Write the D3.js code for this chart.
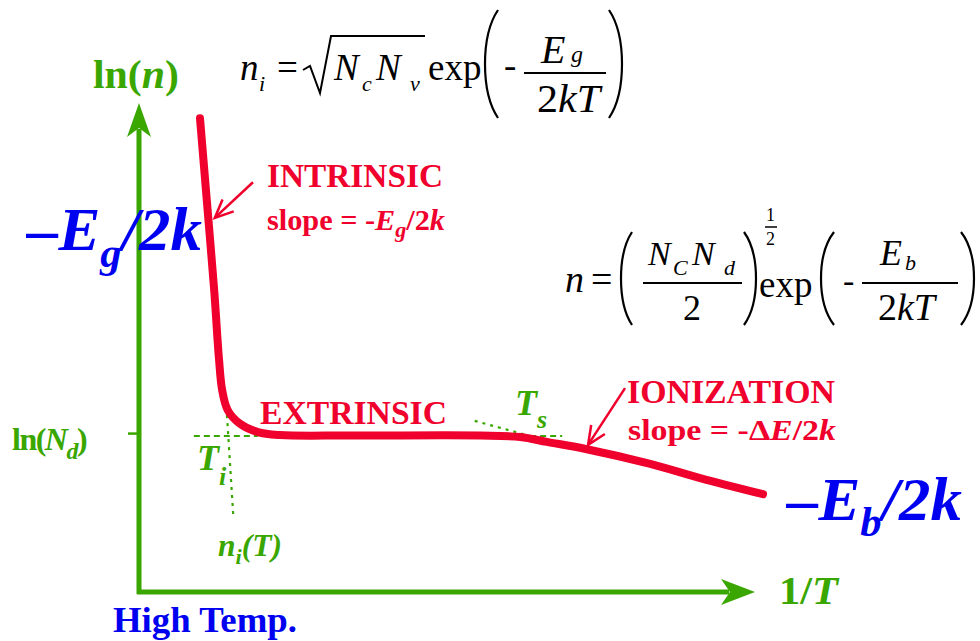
<!DOCTYPE html>
<html>
<head>
<meta charset="utf-8">
<script src="https://cdn.jsdelivr.net/npm/d3@7"></script>
<style>
body{margin:0;background:#fff}
svg text{font-family:"Liberation Serif","Times New Roman",Times,serif}
</style>
</head>
<body>
<svg id="c" width="980" height="641"></svg>
<script>
// ln(n) versus 1/T for a doped semiconductor (arbitrary units on both axes)
const invT = [0.99, 1.10, 1.22, 1.30, 1.35, 1.44, 1.64, 1.93, 2.29, 3.43, 5.54, 6.19, 6.62, 7.27, 8.30, 9.11, 10.13];
const lnN  = [9.69, 8.02, 6.18, 4.74, 4.13, 3.72, 3.44, 3.27, 3.21, 3.20, 3.20, 3.17, 3.07, 2.92, 2.62, 2.33, 2.00];
const lnNdLevel = 3.25;
const yTicks = [lnNdLevel];
// guide lines: [x1, y1, x2, y2] in data units
const guideTi = [[0.89, 3.19, 1.93, 3.19], [1.42, 3.78, 1.53, 1.57]];
const guideTs = [[5.45, 3.50, 6.35, 3.19], [6.35, 3.19, 6.87, 3.19]];
// annotation arrows: [x1, y1, x2, y2] in data units (head at the second point)
const pointers = [[1.85, 8.38, 1.23, 7.65], [7.89, 4.17, 7.29, 3.01]];

const RED = "#f0002c", GREEN = "#3aa600", BLUE = "#0000f0";

const svg = d3.select("#c");
const x = d3.scaleLinear().domain([0, 10]).range([139, 755]);
const y = d3.scaleLinear().domain([0, 10]).range([592, 103]);

// axes with arrowheads
const ax = svg.append("g");
ax.append("line").attr("x1", x(0) - 2).attr("y1", y(0)).attr("x2", x(10) - 26).attr("y2", y(0))
  .attr("stroke", GREEN).attr("stroke-width", 5);
ax.append("line").attr("x1", x(0)).attr("y1", y(0) + 2).attr("x2", x(0)).attr("y2", y(10) + 26)
  .attr("stroke", GREEN).attr("stroke-width", 5);
const tx = x(10), ty = y(0);
ax.append("path").attr("d", `M${tx},${ty} L${tx - 34},${ty - 13} L${tx - 25},${ty} L${tx - 34},${ty + 13} Z`).attr("fill", GREEN);
const vx = x(0), vy = y(10);
ax.append("path").attr("d", `M${vx},${vy} L${vx - 12},${vy + 34} L${vx},${vy + 25} L${vx + 12},${vy + 34} Z`).attr("fill", GREEN);

const yAxis = d3.axisLeft(y).tickValues(yTicks).tickSize(11).tickFormat("");
const gy = svg.append("g").attr("transform", `translate(${x(0)},0)`).call(yAxis);
gy.select(".domain").remove();
gy.selectAll(".tick line").attr("stroke", GREEN).attr("stroke-width", 2.5);

// guide lines
function guide(arr, dash) {
  arr.forEach(d => svg.append("line")
    .attr("x1", x(d[0])).attr("y1", y(d[1])).attr("x2", x(d[2])).attr("y2", y(d[3]))
    .attr("stroke", GREEN).attr("stroke-width", 2.2).attr("stroke-dasharray", dash));
}
guide([guideTi[0]], "6,4");
guide([guideTi[1]], "3,5");
guide([guideTs[0]], "3,5");
guide([guideTs[1]], "6,4");

// carrier concentration curve
const pts = invT.map((v, i) => [v, lnN[i]]);
svg.append("path").datum(pts)
  .attr("d", d3.line().x(d => x(d[0])).y(d => y(d[1])).curve(d3.curveCatmullRom.alpha(0.5)))
  .attr("fill", "none").attr("stroke", RED).attr("stroke-width", 8)
  .attr("stroke-linecap", "round").attr("stroke-linejoin", "round");

// pointer arrows
pointers.forEach(p => {
  const x1 = x(p[0]), y1 = y(p[1]), x2 = x(p[2]), y2 = y(p[3]);
  const a = Math.atan2(y2 - y1, x2 - x1), L = 20, w = 0.42;
  svg.append("line").attr("x1", x1).attr("y1", y1).attr("x2", x2).attr("y2", y2)
    .attr("stroke", RED).attr("stroke-width", 2.5);
  svg.append("path")
    .attr("d", `M${x2 - L * Math.cos(a - w)},${y2 - L * Math.sin(a - w)} L${x2},${y2} L${x2 - L * Math.cos(a + w)},${y2 - L * Math.sin(a + w)}`)
    .attr("fill", "none").attr("stroke", RED).attr("stroke-width", 2.5);
});

// rich text helper: segments may set italic, size, absolute x/y or relative dx/dy
function label(x0, y0, o, segs) {
  const t = svg.append("text").attr("x", x0).attr("y", y0)
    .style("font-size", o.size + "px")
    .style("font-weight", o.weight || "normal").attr("fill", o.fill || "#000");
  if (o.ls !== undefined) t.style("letter-spacing", o.ls + "px");
  if (o.len) t.attr("textLength", o.len).attr("lengthAdjust", "spacingAndGlyphs");
  if (o.italic) t.style("font-style", "italic");
  segs.forEach(s => {
    const sp = t.append("tspan").text(s.t);
    if (s.i) sp.style("font-style", "italic");
    if (s.fs) sp.style("font-size", s.fs + "px");
    if (s.x !== undefined) sp.attr("x", s.x);
    if (s.y !== undefined) sp.attr("y", s.y);
    if (s.dx) sp.attr("dx", s.dx);
    if (s.dy) sp.attr("dy", s.dy);
  });
  return t;
}

// axis labels
label(93, 88, {size: 40, weight: "bold", fill: GREEN, len: 86}, [{t: "ln("}, {t: "n", i: 1}, {t: ")"}]);
label(779, 604, {size: 40, weight: "bold", fill: GREEN, len: 59}, [{t: "1/"}, {t: "T", i: 1}]);
label(113, 632, {size: 36, weight: "bold", fill: BLUE, len: 184}, [{t: "High Temp."}]);
label(12, 450, {size: 32, weight: "bold", fill: GREEN, ls: -1.5}, [{t: "ln("}, {t: "N", i: 1}, {t: "d", i: 1, fs: 24, dy: 9}, {t: ")", dy: -9}]);

// slopes
label(27, 250, {size: 62, weight: "bold", fill: BLUE, italic: 1, len: 175}, [{t: "–E"}, {t: "g", fs: 42, dy: 17}, {t: "/2k", dy: -17}]);
label(787, 520, {size: 62, weight: "bold", fill: BLUE, italic: 1, len: 175}, [{t: "–E"}, {t: "b", fs: 42, dy: 16}, {t: "/2k", dy: -16}]);

// region names
label(267, 187, {size: 33, weight: "bold", fill: RED, len: 176}, [{t: "INTRINSIC"}]);
label(267, 230, {size: 30, weight: "bold", fill: RED, len: 178}, [{t: "slope = -"}, {t: "E", i: 1}, {t: "g", i: 1, fs: 22, dy: 7}, {t: "/2", dy: -7}, {t: "k", i: 1}]);
label(260, 424, {size: 33, weight: "bold", fill: RED, len: 187}, [{t: "EXTRINSIC"}]);
label(627, 403, {size: 33, weight: "bold", fill: RED, len: 208}, [{t: "IONIZATION"}]);
label(628, 440, {size: 30, weight: "bold", fill: RED, len: 208}, [{t: "slope = -Δ"}, {t: "E", i: 1}, {t: "/2"}, {t: "k", i: 1}]);

// temperatures
label(197, 470, {size: 36, weight: "bold", fill: GREEN, italic: 1}, [{t: "T"}, {t: "i", fs: 26, dy: 15}]);
label(515, 415, {size: 36, weight: "bold", fill: GREEN, italic: 1}, [{t: "T"}, {t: "s", fs: 26, dy: 13}]);
label(218, 556, {size: 31, weight: "bold", fill: GREEN, italic: 1, len: 64}, [{t: "n"}, {t: "i", fs: 22, dy: 8}, {t: "(T)", dy: -8}]);

// formula helpers
function bracket(xa, xb, y1, y2) {
  const m = (y1 + y2) / 2;
  svg.append("path").attr("d", `M${xa},${y1} Q${xb},${y1 + (y2 - y1) * 0.18} ${xb},${m} Q${xb},${y2 - (y2 - y1) * 0.18} ${xa},${y2}`)
    .attr("fill", "none").attr("stroke", "#000").attr("stroke-width", 2.2);
}
function rule(x1, x2, yy, w) {
  svg.append("line").attr("x1", x1).attr("x2", x2).attr("y1", yy).attr("y2", yy)
    .attr("stroke", "#000").attr("stroke-width", w || 2);
}

// n_i = sqrt(Nc Nv) exp(-Eg/2kT)
label(240, 80, {size: 37}, [
  {t: "n", i: 1}, {t: "i", i: 1, fs: 22, x: 259, y: 91},
  {t: "=", x: 277, y: 80},
  {t: "N", i: 1, x: 334, y: 80}, {t: "c", i: 1, fs: 22, x: 362, y: 91},
  {t: "N", i: 1, x: 376, y: 80}, {t: "v", i: 1, fs: 22, x: 410, y: 91},
  {t: "exp", x: 428, y: 80},
  {t: "-", x: 504, y: 78}
]);
svg.append("path").attr("d", "M303,70 L310,66 L320,93 L331,36 L425,36")
  .attr("fill", "none").attr("stroke", "#000").attr("stroke-width", 2);
bracket(498, 485, 10, 118);
label(541, 63, {size: 40}, [{t: "E", i: 1}, {t: "g", i: 1, fs: 24, x: 571, y: 62}]);
rule(524, 606, 73);
label(537, 112, {size: 40, len: 63}, [{t: "2"}, {t: "kT", i: 1}]);
bracket(609, 622, 10, 118);

// n = (Nc Nd / 2)^(1/2) exp(-Eb/2kT)
label(565, 292, {size: 38}, [{t: "n", i: 1}, {t: "=", x: 591, y: 292}]);
bracket(632, 621, 232, 325);
label(648, 265, {size: 34}, [
  {t: "N", i: 1}, {t: "C", i: 1, fs: 22, x: 673, y: 275},
  {t: "N", i: 1, x: 692, y: 265}, {t: "d", i: 1, fs: 22, x: 724, y: 275}
]);
rule(643, 742, 283);
label(683, 320, {size: 36}, [{t: "2"}]);
bracket(744, 756, 232, 325);
label(766, 221, {size: 18}, [{t: "1"}]);
rule(765, 777, 227, 1.5);
label(766, 245, {size: 18}, [{t: "2"}]);
label(759, 297, {size: 37}, [{t: "exp"}]);
bracket(834, 821, 232, 325);
label(843, 292, {size: 34}, [{t: "-"}]);
label(880, 265, {size: 36}, [{t: "E", i: 1}, {t: "b", i: 1, fs: 22, x: 905, y: 270}]);
rule(862, 958, 283);
label(878, 320, {size: 38}, [{t: "2"}, {t: "kT", i: 1}]);
bracket(961, 974, 232, 325);
</script>
</body>
</html>
